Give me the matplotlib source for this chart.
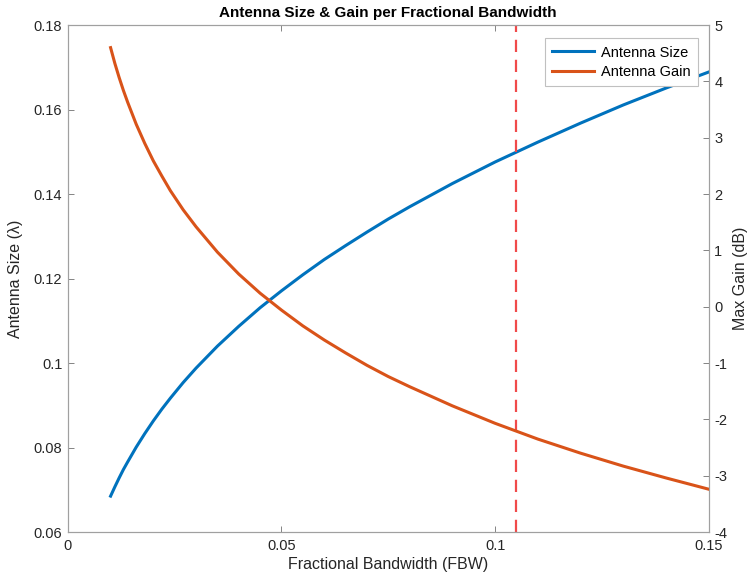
import numpy as np
import matplotlib
matplotlib.use('Agg')
import matplotlib.pyplot as plt

plt.rcParams['font.family'] = ['Liberation Sans', 'DejaVu Sans']
plt.rcParams['axes.unicode_minus'] = False

# Fractional bandwidth samples
fbw = [0.01, 0.011, 0.012, 0.013, 0.014, 0.016, 0.018, 0.02, 0.022, 0.024,
       0.027, 0.03, 0.035, 0.04, 0.045, 0.05, 0.055, 0.06, 0.065, 0.07,
       0.075, 0.08, 0.09, 0.10, 0.11, 0.12, 0.13, 0.14, 0.15]

# Antenna size in wavelengths (left axis)
ant_size = [0.0685, 0.0707, 0.0728, 0.0748, 0.0766, 0.0801, 0.0833, 0.0863,
            0.0891, 0.0917, 0.0954, 0.0988, 0.1040, 0.1087, 0.1131, 0.1171,
            0.1209, 0.1245, 0.1278, 0.1310, 0.1341, 0.1370, 0.1425, 0.1476,
            0.1523, 0.1568, 0.1611, 0.1651, 0.1689]

# Max gain in dB (right axis)
ant_gain = [4.60, 4.32, 4.07, 3.84, 3.63, 3.24, 2.90, 2.59, 2.32, 2.06,
            1.72, 1.42, 0.97, 0.58, 0.24, -0.06, -0.34, -0.59, -0.82, -1.04,
            -1.24, -1.42, -1.76, -2.07, -2.35, -2.60, -2.83, -3.04, -3.24]

design_fbw = 0.105

x_ticks = [0, 0.05, 0.1, 0.15]
x_labels = ['0', '0.05', '0.1', '0.15']
left_ticks = [0.06, 0.08, 0.1, 0.12, 0.14, 0.16, 0.18]
left_labels = ['0.06', '0.08', '0.1', '0.12', '0.14', '0.16', '0.18']
right_ticks = [-4, -3, -2, -1, 0, 1, 2, 3, 4, 5]

blue = '#0072BD'
orange = '#D95319'
txt = '#262626'
spine = '#a0a0a0'

fig = plt.figure(figsize=(7.54, 5.84), dpi=100)
ax = fig.add_axes([0.090, 0.089, 0.850, 0.868])
ax2 = ax.twinx()

l1, = ax.plot(fbw, ant_size, color=blue, lw=2.2, label='Antenna Size',
              solid_joinstyle='round')
l2, = ax2.plot(fbw, ant_gain, color=orange, lw=2.2, label='Antenna Gain',
               solid_joinstyle='round')
ax.axvline(design_fbw, color='#f04a4a', lw=1.6, ls=(0, (5.5, 3.5)))

ax.set_xlim(0, 0.15)
ax.set_ylim(0.06, 0.18)
ax2.set_ylim(-4, 5)
ax.set_xticks(x_ticks)
ax.set_xticklabels(x_labels)
ax.set_yticks(left_ticks)
ax.set_yticklabels(left_labels)
ax2.set_yticks(right_ticks)

for a in (ax, ax2):
    for s in a.spines.values():
        s.set_color(spine)
        s.set_linewidth(0.8)
    a.tick_params(direction='in', length=4, width=0.6, color='#707070',
                  labelsize=10.5, labelcolor=txt)
ax.tick_params(axis='x', top=True, pad=5)
ax.tick_params(axis='y', pad=4)
ax2.tick_params(axis='y', pad=4)

ax.set_xlabel('Fractional Bandwidth (FBW)', fontsize=11.5, color=txt, labelpad=3)
ax.set_ylabel('Antenna Size (λ)', fontsize=11.5, color=txt, labelpad=8)
ax2.set_ylabel('Max Gain (dB)', fontsize=11.5, color=txt, labelpad=4)
ax.set_title('Antenna Size & Gain per Fractional Bandwidth', fontsize=11,
             fontweight='bold', color='black', pad=6)

leg = ax2.legend(handles=[l1, l2], loc='upper right', fontsize=10.5,
                 bbox_to_anchor=(0.983, 0.974), borderaxespad=0,
                 handlelength=2.9, borderpad=0.5, labelspacing=0.35,
                 handletextpad=0.45, fancybox=False, framealpha=1)
leg.get_frame().set_edgecolor('#c0c0c0')
leg.get_frame().set_linewidth(0.8)

fig.savefig('out.png', dpi=100)
